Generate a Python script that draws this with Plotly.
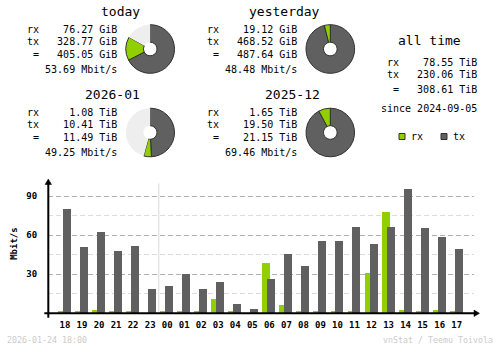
import plotly.graph_objects as go

# ---- traffic summary values ----
summary_titles = ["today", "yesterday", "2026-01", "2025-12"]
summary_rx = [76.27, 19.12, 1.08, 1.65]
summary_tx = [328.77, 468.52, 10.41, 19.50]
summary_total = [405.05, 487.64, 11.49, 21.15]
summary_unit = ["GiB", "GiB", "TiB", "TiB"]
summary_rate = [53.69, 48.48, 49.25, 69.46]

alltime_rx = 78.55
alltime_tx = 230.06
alltime_total = 308.61
alltime_since = "2024-09-05"

# ---- hourly traffic (Mbit/s) ----
hours = ["18", "19", "20", "21", "22", "23", "00", "01", "02", "03", "04", "05",
         "06", "07", "08", "09", "10", "11", "12", "13", "14", "15", "16", "17"]
hourly_rx = [1.8, 1.0, 2.6, 1.0, 1.8, 0.0, 1.8, 1.0, 1.0, 11.0, 1.8, 0.0,
             38.7, 6.4, 1.0, 1.0, 1.8, 1.8, 31.0, 77.9, 2.6, 1.8, 2.6, 1.8]
hourly_tx = [80.3, 51.0, 62.6, 47.9, 51.8, 18.7, 21.0, 30.3, 18.7, 24.1, 7.2, 3.3,
             26.4, 45.6, 36.4, 55.6, 55.6, 66.4, 53.3, 66.4, 95.6, 65.6, 58.7, 49.5]
y_ticks = [30, 60, 90]

# ---- styling ----
W, H = 500, 348
RX_COLOR = "#92cf00"
TX_COLOR = "#606060"
PIE_BG = "#eeeeee"
EDGE = "#303030"
MONO = "DejaVu Sans Mono"
FOOT = "#cccccc"


def px(x):
    return x / W


def py(y):
    return 1 - y / H


fig = go.Figure()

# ---- hourly bars ----
slots = list(range(len(hours)))
fig.add_trace(go.Bar(x=slots, y=hourly_rx, marker_color=RX_COLOR, marker_line_width=0,
                     width=0.47, offset=-0.41, name="rx", showlegend=False))
fig.add_trace(go.Bar(x=slots, y=hourly_tx, marker_color=TX_COLOR, marker_line_width=0,
                     width=0.47, offset=-0.12, name="tx", showlegend=False))

# ---- donut charts ----
pie_centers = [(150.2, 49.0), (330.3, 49.0), (150.2, 132.5), (330.3, 132.5)]
R = 24.3
for i, (cx, cy) in enumerate(pie_centers):
    pair = i - (i % 2)
    ref = max(summary_total[pair], summary_total[pair + 1])
    rest = max(ref - summary_rx[i] - summary_tx[i], 0)
    fig.add_trace(go.Pie(
        values=[summary_tx[i], summary_rx[i], rest],
        marker=dict(colors=[TX_COLOR, RX_COLOR, PIE_BG],
                    line=dict(color=[EDGE, EDGE, PIE_BG], width=[1, 1, 0])),
        sort=False, direction="clockwise", rotation=0, hole=0.28,
        textinfo="none", hoverinfo="skip", showlegend=False,
        domain=dict(x=[px(cx - R), px(cx + R)], y=[py(cy + R), py(cy - R)]),
    ))

annotations = []


def text(x, y, s, size=10, color="#000000", anchor="left", weight="normal", angle=0):
    annotations.append(dict(
        x=px(x), y=py(y), xref="paper", yref="paper", text=s, showarrow=False,
        xanchor=anchor, yanchor="middle", textangle=angle,
        font=dict(family=MONO, size=size, color=color, weight=weight),
    ))


# ---- summary text blocks ----
block_origin = [(25, 0), (205, 0), (25, 83.3), (205, 83.3)]
title_right = [142, 322, 142, 322]
for i, (bx, dy) in enumerate(block_origin):
    u = summary_unit[i]
    text(title_right[i], 11 + dy, summary_titles[i], size=13, anchor="right")
    lines = [
        "rx" + f"{summary_rx[i]:.2f} {u}".rjust(13),
        "tx" + f"{summary_tx[i]:.2f} {u}".rjust(13),
        " =" + f"{summary_total[i]:.2f} {u}".rjust(13),
        f"{summary_rate[i]:.2f} Mbit/s".rjust(15),
    ]
    for s, ly in zip(lines, [29.2, 41.2, 54.2, 69.2]):
        text(bx, ly + dy, s.replace(" ", "&nbsp;"))

# ---- all time block ----
text(429, 40.5, "all&nbsp;time", size=13, anchor="center")
for s, ly in zip([
    "rx" + f"{alltime_rx:.2f} TiB".rjust(13),
    "tx" + f"{alltime_tx:.2f} TiB".rjust(13),
    " =" + f"{alltime_total:.2f} TiB".rjust(13),
], [62.5, 74.2, 89.2]):
    text(385, ly, s.replace(" ", "&nbsp;"))
text(379, 108.5, "since&nbsp;" + alltime_since)

# ---- legend ----
shapes = []
for sx, col, lab in [(399, RX_COLOR, "rx"), (441, TX_COLOR, "tx")]:
    shapes.append(dict(type="rect", xref="paper", yref="paper",
                       x0=px(sx), x1=px(sx + 6), y0=py(139.5), y1=py(133.5),
                       fillcolor=col, line=dict(color=EDGE, width=1)))
    text(sx + 10, 136.8, lab)

# ---- footer ----
text(5, 339.7, "2026-01-24&nbsp;18:00", size=8.3, color=FOOT)
text(495, 339.7, "vnStat&nbsp;/&nbsp;Teemu&nbsp;Toivola", size=8.3, color=FOOT, anchor="right")

# ---- axis title ----
text(14.5, 243.3, "Mbit/s", size=9, anchor="center", weight="bold", angle=-90)

# ---- day boundary ----
wrap = hours.index("00")
shapes.append(dict(type="line", xref="x", yref="y", x0=wrap - 0.5, x1=wrap - 0.5,
                   y0=0, y1=100, line=dict(color="#e4e4e4", width=1.5), layer="below"))

# ---- axes with arrows ----
ax_y0 = 313.3
ax_x0 = 48.3
shapes += [
    dict(type="line", xref="paper", yref="paper", x0=px(44.3), x1=px(476),
         y0=py(ax_y0), y1=py(ax_y0), line=dict(color="#000000", width=2)),
    dict(type="line", xref="paper", yref="paper", x0=px(ax_x0), x1=px(ax_x0),
         y0=py(317.7), y1=py(182), line=dict(color="#000000", width=2)),
    dict(type="path", xref="paper", yref="paper", fillcolor="#000000",
         line=dict(color="#000000", width=0.5),
         path=f"M {px(479.5)} {py(ax_y0)} L {px(474)} {py(ax_y0 - 3.2)} "
              f"L {px(474)} {py(ax_y0 + 3.2)} Z"),
    dict(type="path", xref="paper", yref="paper", fillcolor="#000000",
         line=dict(color="#000000", width=0.5),
         path=f"M {px(ax_x0)} {py(179)} L {px(ax_x0 - 3.2)} {py(184.5)} "
              f"L {px(ax_x0 + 3.2)} {py(184.5)} Z"),
]

fig.update_layout(
    width=W, height=H, margin=dict(l=0, r=0, t=0, b=0),
    paper_bgcolor="#ffffff", plot_bgcolor="#ffffff",
    barmode="overlay", bargap=0,
    annotations=annotations, shapes=shapes,
    xaxis=dict(domain=[px(47.97), px(473.7)], range=[-1, 24],
               tickmode="array", tickvals=slots, ticktext=hours,
               ticks="outside", ticklen=3, tickcolor="rgba(0,0,0,0)",
               tickfont=dict(family=MONO, size=9, color="#000000", weight="bold"),
               showgrid=False, zeroline=False, showline=False, fixedrange=True),
    yaxis=dict(domain=[py(313.3), py(183.3)], range=[0, 100],
               tickmode="array", tickvals=y_ticks,
               ticks="outside", ticklen=8, tickcolor="rgba(0,0,0,0)",
               tickfont=dict(family=MONO, size=9, color="#000000", weight="bold"),
               showgrid=True, gridcolor="#b0b0b0", gridwidth=1, griddash="5px,3px",
               minor=dict(tickmode="array", tickvals=[15, 45, 75], showgrid=True,
                          gridcolor="#dcdcdc", gridwidth=1, griddash="5px,3px"),
               zeroline=False, showline=False, fixedrange=True),
    font=dict(family=MONO),
)

fig.write_html("out.html")
